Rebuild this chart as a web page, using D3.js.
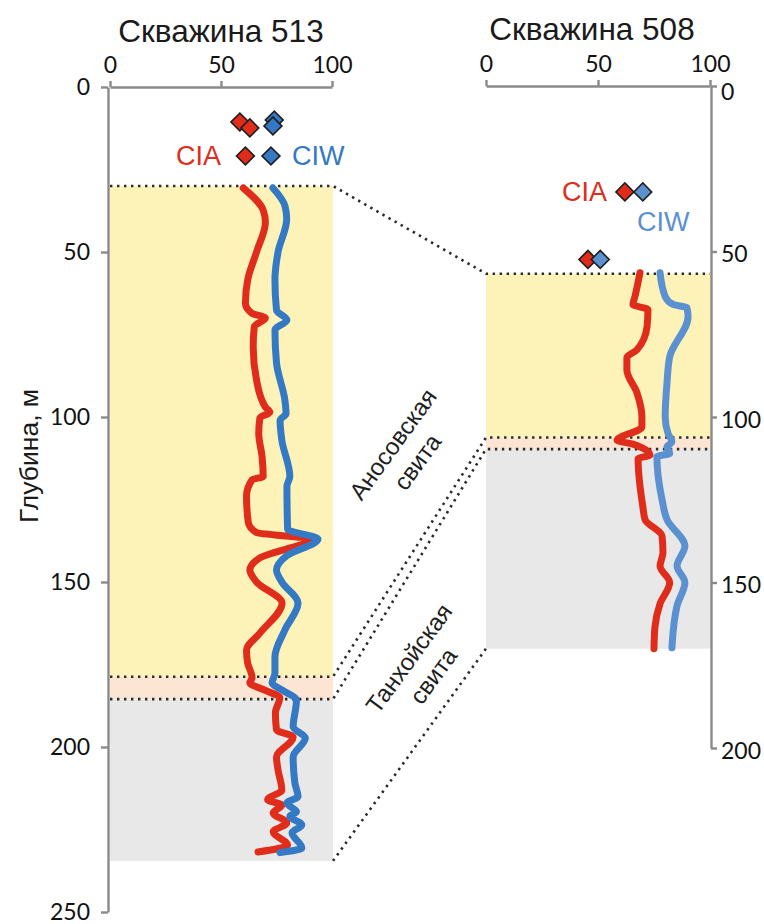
<!DOCTYPE html>
<html>
<head>
<meta charset="utf-8">
<script src="https://cdn.jsdelivr.net/npm/d3@7"></script>
<style>
  body { margin: 0; background: #fff; }
  svg { display: block; }
</style>
</head>
<body>
<svg id="chart" width="764" height="924"></svg>
<script>
// ---- Well 513: weathering indices along depth (m) ----
const depth513CIA = [30.6, 37.3, 41, 50, 58.5, 65.5, 68.6, 70, 72.6, 78.7, 88.8, 97, 98.5, 100.3, 105, 112, 118, 119, 124, 132, 135, 137, 142.7, 146.4, 150, 156.4, 165.5, 170.6, 174.5, 179, 180.5, 183, 185, 189.7, 194.8, 197, 203, 207, 213, 216, 217.6, 220, 223, 225.7, 229.7, 231.8];
const cia513      = [60, 69, 70, 66, 62, 61, 64, 70, 65, 64.5, 66, 70, 72, 67.5, 67, 68.5, 69, 64, 61.5, 62.3, 66, 90, 67.5, 63, 66, 77.5, 67.5, 61.5, 62, 64, 63, 70.5, 76.5, 74.5, 75, 82.5, 75, 75.7, 77.4, 71, 77.4, 73.5, 79.6, 73.5, 80, 66.7];
const depth513CIW = [30.6, 36, 40, 50, 58.5, 67.6, 70.6, 73.6, 83.6, 95, 99, 101, 107, 118, 121, 134, 137, 142, 146.4, 150, 156.4, 164.5, 172.7, 177.6, 180.6, 182.7, 185.8, 193.9, 197.3, 203, 211, 215, 217, 219.6, 221, 223.6, 226, 230.6, 232];
const ciw513      = [73.4, 78.8, 79.6, 75.7, 74.3, 75, 79.7, 74.3, 75, 78.8, 79.3, 76.6, 77.4, 81, 79.7, 80, 93.7, 79.7, 75, 77.4, 84.7, 78.8, 74.3, 74.3, 73, 77.4, 84, 82.5, 88, 82.5, 83.3, 84.7, 79.7, 84, 81, 86.4, 82, 86.4, 76.6];
// single samples above the formation top
const pointDepth513CIA = [10.6, 12.4, 20.9];
const pointCIA513      = [58.5, 63, 61];
const pointDepth513CIW = [10, 11.8, 20.9];
const pointCIW513      = [74, 73.4, 72.5];
// formation boundaries: Аносовская top, Аносовская base, Танхойская top, Танхойская base
const bounds513 = [30, 178.7, 185.5, 234.5];

// ---- Well 508 ----
const depth508CIA = [56.4, 63.6, 66, 67.6, 72.7, 79.7, 82, 85.8, 92.7, 99.9, 103, 107, 108.2, 109.4, 111.5, 112.6, 127, 131, 136, 141, 145, 150, 156.4, 163.6, 170];
const cia508      = [68.75, 66.5, 65.6, 72.3, 71.9, 67.4, 62.9, 62.9, 67.4, 69.6, 69.6, 58.5, 65.6, 70, 73.2, 67.9, 70, 71, 78.6, 79, 77.7, 82, 77.7, 75.4, 75];
const depth508CIW = [56.4, 63.6, 66, 67, 69.7, 81.8, 89.7, 99.9, 105, 107.5, 109, 111, 112, 125, 131, 139, 145, 150, 157, 169.7];
const ciw508      = [77.7, 80, 83.5, 89.7, 90.2, 82, 80.8, 80, 81.3, 83, 80.8, 82, 76.3, 78.6, 80.8, 88.8, 85.3, 88.8, 85.3, 83];
const pointDepth508CIA = [32, 52.4];
const pointCIA508      = [62, 45.5];
const pointDepth508CIW = [32, 52.4];
const pointCIW508      = [70, 51];
const bounds508 = [56.7, 106.2, 109.7, 170];

// ---- labels and ticks ----
const wellTitles = ["Скважина 513", "Скважина 508"];
const indexNames = ["CIA", "CIW"];
const formationNames = [["Аносовская", "свита"], ["Танхойская", "свита"]];
const depthTitle = "Глубина, м";
const valueTicks = [0, 50, 100];
const depthTicks513 = [0, 50, 100, 150, 200, 250];
const depthTicks508 = [0, 50, 100, 150, 200];

// ---- styling ----
const RED = "#e02d1b";
const BLUE_513 = "#3479c4";
const BLUE_508 = "#5c91d1";
const BAND_FILLS = ["#fdf3b8", "#fde5d3", "#e8e8e8"];
const AXIS_COLOR = "#8a8a8a";
const NUM_FONT = "Lato, 'Open Sans', sans-serif";
const TXT_FONT = "'Liberation Sans', Arial, sans-serif";

const svg = d3.select("#chart");

// scales
const x513 = d3.scaleLinear().domain([0, 100]).range([110, 332]);
const y513 = d3.scaleLinear().domain([0, 250]).range([87, 912]);
const x508 = d3.scaleLinear().domain([0, 100]).range([486, 710]);
const y508 = d3.scaleLinear().domain([0, 200]).range([86, 748]);

// ---- formation bands ----
function drawBands(x, y, bounds) {
  const g = svg.append("g");
  for (let i = 0; i < bounds.length - 1; i++) {
    g.append("rect")
      .attr("x", x(0))
      .attr("width", x(100) - x(0) + 1)
      .attr("y", y(bounds[i]))
      .attr("height", y(bounds[i + 1]) - y(bounds[i]))
      .attr("fill", BAND_FILLS[i]);
  }
}
drawBands(x513, y513, bounds513);
drawBands(x508, y508, bounds508);

// ---- dotted correlation lines ----
const dots = svg.append("g")
  .attr("fill", "none")
  .attr("stroke", "#2a2a2a")
  .attr("stroke-width", 2.6)
  .attr("stroke-dasharray", "2.4 4.6");

bounds513.forEach((b, i) => {
  const pts = [];
  const hasHoriz = i < bounds513.length - 1;
  if (hasHoriz) pts.push([x513(0), y513(b)]);
  pts.push([x513(100) + 1, y513(b)]);
  pts.push([x508(0), y508(bounds508[i])]);
  if (hasHoriz) pts.push([x508(100), y508(bounds508[i])]);
  dots.append("path").attr("d", d3.line()(pts));
});

// ---- index curves ----
function drawCurve(x, y, depths, values, color) {
  const pts = depths.map((d, i) => [values[i], d]);
  const line = d3.line()
    .x(p => x(p[0]))
    .y(p => y(p[1]))
    .curve(d3.curveMonotoneY);
  svg.append("path")
    .attr("d", line(pts))
    .attr("fill", "none")
    .attr("stroke", color)
    .attr("stroke-width", 7)
    .attr("stroke-linejoin", "round")
    .attr("stroke-linecap", "round");
}
drawCurve(x513, y513, depth513CIA, cia513, RED);
drawCurve(x513, y513, depth513CIW, ciw513, BLUE_513);
drawCurve(x508, y508, depth508CIA, cia508, RED);
drawCurve(x508, y508, depth508CIW, ciw508, BLUE_508);

// ---- diamond samples ----
const diamond = d3.symbol().type(d3.symbolSquare).size(160);
function drawPoints(x, y, depths, values, color) {
  depths.forEach((d, i) => {
    svg.append("path")
      .attr("d", diamond())
      .attr("transform", `translate(${x(values[i])},${y(d)}) rotate(45)`)
      .attr("fill", color)
      .attr("stroke", "#1e1e1e")
      .attr("stroke-width", 1.6);
  });
}
drawPoints(x513, y513, pointDepth513CIA, pointCIA513, RED);
drawPoints(x513, y513, pointDepth513CIW, pointCIW513, BLUE_513);
drawPoints(x508, y508, pointDepth508CIA, pointCIA508, RED);
drawPoints(x508, y508, pointDepth508CIW, pointCIW508, BLUE_508);

// ---- axes ----
function styleAxis(g) {
  g.selectAll("path, line").attr("stroke", AXIS_COLOR).attr("stroke-width", 2.4);
  g.selectAll("text")
    .attr("fill", "#111")
    .style("font-family", NUM_FONT)
    .style("font-size", "23px");
}

svg.append("g")
  .attr("transform", `translate(0,${y513(0)})`)
  .call(d3.axisTop(x513).tickValues(valueTicks).tickSize(6).tickSizeOuter(0).tickPadding(8))
  .call(styleAxis);
svg.append("g")
  .attr("transform", `translate(${x513(0) - 2},0)`)
  .call(d3.axisLeft(y513).tickValues(depthTicks513).tickSize(7).tickSizeOuter(0).tickPadding(11))
  .call(styleAxis);

svg.append("g")
  .attr("transform", `translate(0,${y508(0)})`)
  .call(d3.axisTop(x508).tickValues(valueTicks).tickSize(6).tickSizeOuter(0).tickPadding(8))
  .call(styleAxis);
svg.append("g")
  .attr("transform", `translate(${x508(100) + 1},0)`)
  .call(d3.axisRight(y508).tickValues(depthTicks508).tickSize(6).tickSizeOuter(0).tickPadding(4))
  .call(styleAxis)
  .call(g => g.selectAll(".tick text").attr("y", d => d === 0 ? 6 : 3));

// ---- titles ----
svg.append("text")
  .attr("x", (x513(0) + x513(100)) / 2).attr("y", 42)
  .attr("text-anchor", "middle")
  .style("font-family", TXT_FONT).style("font-size", "31.5px").attr("fill", "#1a1a1a")
  .text(wellTitles[0]);
svg.append("text")
  .attr("x", (x508(0) + x508(100)) / 2 - 6).attr("y", 40)
  .attr("text-anchor", "middle")
  .style("font-family", TXT_FONT).style("font-size", "31.5px").attr("fill", "#1a1a1a")
  .text(wellTitles[1]);

svg.append("text")
  .attr("transform", "translate(38,456) rotate(-90)")
  .attr("text-anchor", "middle")
  .style("font-family", TXT_FONT).style("font-size", "26.5px").attr("fill", "#1a1a1a")
  .text(depthTitle);

// ---- index legends ----
function indexLabel(x, y, anchor, color, txt) {
  svg.append("text")
    .attr("x", x).attr("y", y)
    .attr("text-anchor", anchor)
    .style("font-family", TXT_FONT).style("font-size", "27px")
    .attr("fill", color)
    .text(txt);
}
indexLabel(221, 165, "end", RED, indexNames[0]);
indexLabel(292, 165, "start", BLUE_513, indexNames[1]);
indexLabel(607, 201, "end", RED, indexNames[0]);
indexLabel(637, 231, "start", BLUE_508, indexNames[1]);

// ---- formation names ----
function formationLabel(cx, cy, lines) {
  const g = svg.append("g").attr("transform", `translate(${cx},${cy}) rotate(-54)`);
  lines.forEach((t, i) => {
    g.append("text")
      .attr("x", 0)
      .attr("y", (i - (lines.length - 1) / 2) * 30 + 8.5)
      .attr("text-anchor", "middle")
      .style("font-family", TXT_FONT).style("font-size", "24px")
      .attr("fill", "#1e1e1e")
      .text(t);
  });
}
formationLabel(405, 453, formationNames[0]);
formationLabel(421, 667, formationNames[1]);
</script>
</body>
</html>
